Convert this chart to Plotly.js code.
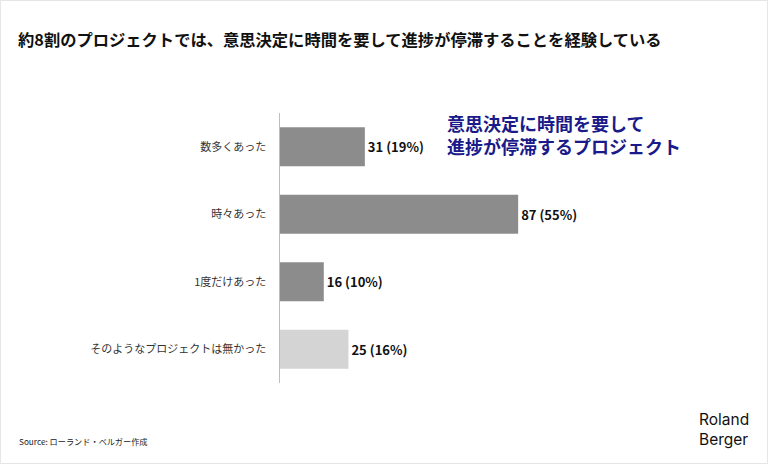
<!DOCTYPE html>
<html>
<head>
<meta charset="utf-8">
<script src="https://cdn.plot.ly/plotly-3.0.1.min.js"></script>
<style>
html,body{margin:0;padding:0;background:#fff;}
#wrap{position:relative;width:768px;height:464px;}
#chart{width:768px;height:464px;}
#frame{position:absolute;left:0;top:0;width:766px;height:462px;border:1px solid #e6e6e6;pointer-events:none;}
</style>
</head>
<body>
<div id="wrap"><div id="chart"></div><div id="frame"></div></div>
<script>
const categories = ["数多くあった", "時々あった", "1度だけあった", "そのようなプロジェクトは無かった"];
const counts = [31, 87, 16, 25];
const percents = [19, 55, 10, 16];
const barColors = ["#8c8c8c", "#8c8c8c", "#8c8c8c", "#d4d4d4"];
const titleText = "約8割のプロジェクトでは、意思決定に時間を要して進捗が停滞することを経験している";
const calloutText = "意思決定に時間を要して<br>進捗が停滞するプロジェクト";
const sourceText = "Source: ローランド・ベルガー作成";
const brandText = "Roland<br>Berger";

const labels = counts.map((c, i) => c + " (" + percents[i] + "%)");

const jp = "'Noto Sans CJK JP', 'Noto Sans', sans-serif";

const trace = {
  type: "bar",
  orientation: "h",
  y: categories,
  x: counts,
  text: labels,
  textposition: "outside",
  cliponaxis: false,
  textfont: {family: jp, size: 13, color: "#111", weight: "bold"},
  marker: {color: barColors, line: {width: 0}},
  hoverinfo: "none"
};

const layout = {
  width: 768, height: 464,
  margin: {l: 280, r: 50, t: 113, b: 81},
  paper_bgcolor: "#fff", plot_bgcolor: "#fff",
  showlegend: false,
  bargap: 0.42,
  xaxis: {range: [0, 160], visible: false, fixedrange: true},
  yaxis: {
    autorange: "reversed",
    showline: true, linecolor: "#bdbdbd", linewidth: 1.5,
    ticks: "", showgrid: false, zeroline: false,
    ticklabelstandoff: 10,
    tickfont: {family: jp, size: 11, color: "#333"}
  },
  title: {
    text: titleText,
    font: {family: jp, size: 16.3, color: "#111", weight: "bold"},
    x: 18 / 768, xref: "container", xanchor: "left",
    y: 1 - 40 / 464, yref: "container", yanchor: "middle"
  },
  annotations: [
    {text: calloutText, xref: "paper", yref: "paper", x: (445 - 280) / 438, y: 1 - (134 - 113) / 270,
     xanchor: "left", yanchor: "middle", align: "left", showarrow: false,
     font: {family: jp, size: 18, color: "#1a1a8a", weight: "bold"}},
    {text: sourceText, xref: "paper", yref: "paper", x: (17 - 280) / 438, y: 1 - (441 - 113) / 270,
     xanchor: "left", yanchor: "middle", showarrow: false,
     font: {family: jp, size: 8.2, color: "#222"}},
    {text: brandText, xref: "paper", yref: "paper", x: (697 - 280) / 438, y: 1 - (429 - 113) / 270,
     xanchor: "left", yanchor: "middle", align: "left", showarrow: false,
     font: {family: "Inter, 'Noto Sans', sans-serif", size: 15.5, color: "#111"}}
  ]
};

Plotly.newPlot("chart", [trace], layout, {displayModeBar: false, staticPlot: true});
</script>
</body>
</html>
